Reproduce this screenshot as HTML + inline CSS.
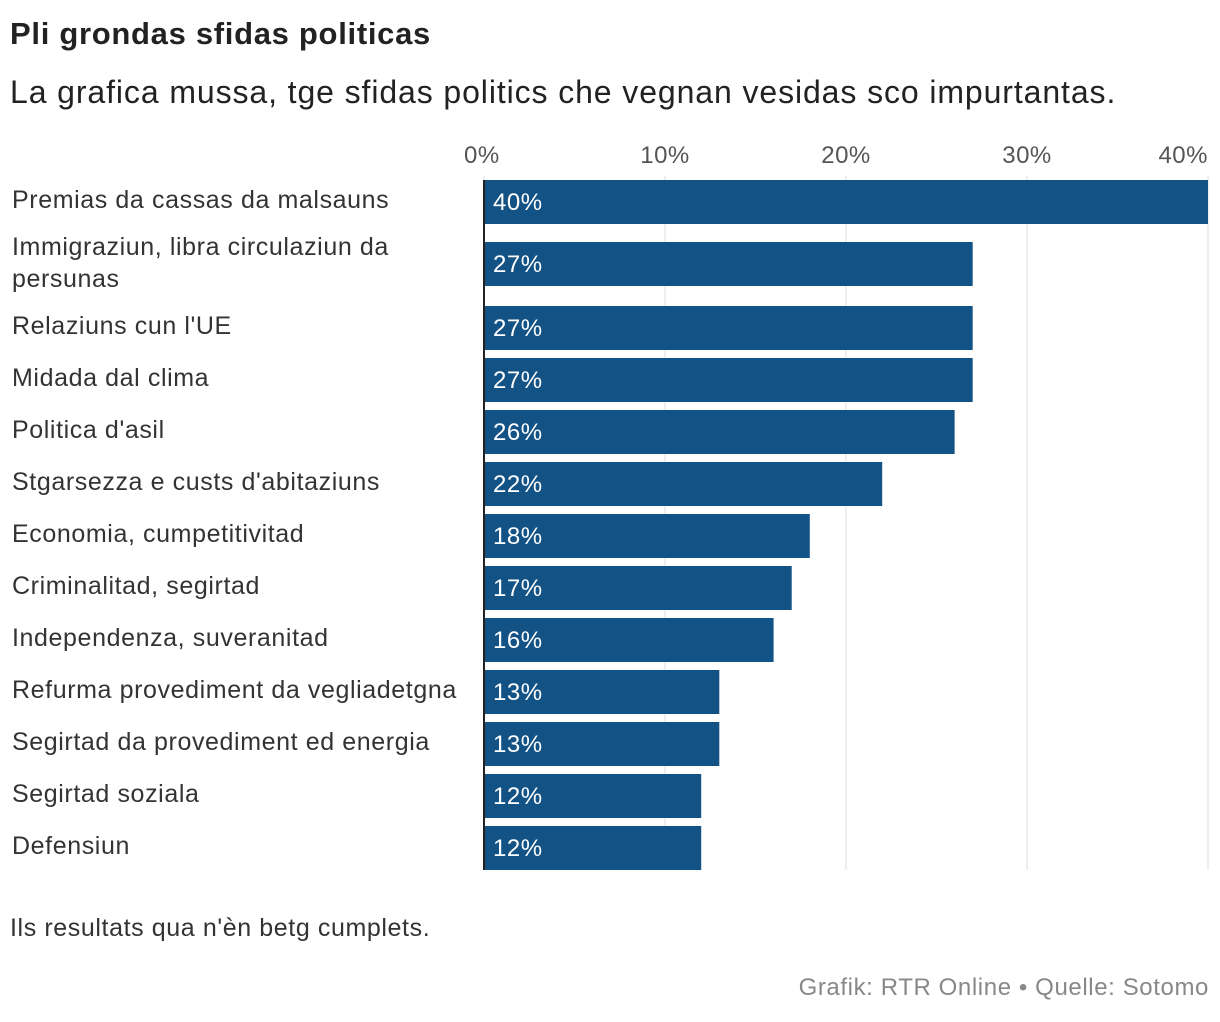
<!DOCTYPE html>
<html><head><meta charset="utf-8"><style>
body{margin:0;width:1220px;height:1022px;background:#fff;font-family:"Liberation Sans",sans-serif;overflow:hidden;position:relative;}
.t{position:absolute;white-space:nowrap;}
</style></head><body>
<div class="t" style="left:10px;top:16px;font-size:31px;font-weight:bold;color:#222;letter-spacing:0.7px;">Pli grondas sfidas politicas</div>
<div class="t" style="left:10px;top:74px;font-size:32px;color:#222;letter-spacing:0.9px;">La grafica mussa, tge sfidas politics che vegnan vesidas sco impurtantas.</div>
<svg id="chart" width="1220" height="900" style="position:absolute;left:0;top:0;"></svg>
<div class="t" style="left:10px;top:914px;font-size:25px;color:#333;letter-spacing:0.6px;">Ils resultats qua n'èn betg cumplets.</div>
<div class="t" style="right:11px;top:974px;font-size:24px;color:#888;letter-spacing:0.6px;">Grafik: RTR Online • Quelle: Sotomo</div>
<script>
const categories=["Premias da cassas da malsauns","Immigraziun, libra circulaziun da|persunas","Relaziuns cun l'UE","Midada dal clima","Politica d'asil","Stgarsezza e custs d'abitaziuns","Economia, cumpetitivitad","Criminalitad, segirtad","Independenza, suveranitad","Refurma provediment da vegliadetgna","Segirtad da provediment ed energia","Segirtad soziala","Defensiun"];
const values=[40,27,27,27,26,22,18,17,16,13,13,12,12];
const ticks=[0,10,20,30,40];
const tickLabels=["0%","10%","20%","30%","40%"];
const svg=document.getElementById('chart');
const NS="http://www.w3.org/2000/svg";
const x0=484,x1=1208,maxV=40;
function xs(v){return x0+(v/maxV)*(x1-x0);}
function rowTop(i){if(i===0)return 180;if(i===1)return 242;return 306+52*(i-2);}
const bottom=870;
function mk(tag,attrs){const e=document.createElementNS(NS,tag);for(const k in attrs)e.setAttribute(k,attrs[k]);svg.appendChild(e);return e;}
ticks.forEach((t,i)=>{
  const g=mk('line',{x1:xs(t),x2:xs(t),y1:176,y2:bottom,stroke:'#ddd','stroke-width':1});
  
  
  const tx=mk('text',{x:xs(t),y:163,'font-size':24,fill:'#555','letter-spacing':0.5,'text-anchor':i===ticks.length-1?'end':(i===0?'start':'middle'),'font-family':'Liberation Sans, sans-serif'});
  if(i===0)tx.setAttribute('x',xs(t)-20);
  tx.textContent=tickLabels[i];
  
  
});
values.forEach((v,i)=>{
  const top=rowTop(i);
  const r=mk('rect',{x:x0,y:top,width:xs(v)-x0,height:44,fill:'#135285'});
  
  
  const vt=mk('text',{x:x0+9,y:top+30,'font-size':24,fill:'#fff','letter-spacing':0.5,'font-family':'Liberation Sans, sans-serif'});
  vt.textContent=v+'%';
  
  
  const lines=categories[i].split('|');
  const lt=mk('text',{x:12,y:lines.length>1?top+13:top+28,'font-size':25,fill:'#333','letter-spacing':0.6,'font-family':'Liberation Sans, sans-serif'});
  lines.forEach((l,j)=>{const ts=document.createElementNS(NS,'tspan');ts.setAttribute('x',12);if(j>0)ts.setAttribute('dy',32);ts.textContent=l;lt.appendChild(ts);});
  
  
});
const ax=mk('line',{x1:x0,x2:x0,y1:180,y2:bottom,stroke:'#222','stroke-width':2});


</script>
</body></html>
